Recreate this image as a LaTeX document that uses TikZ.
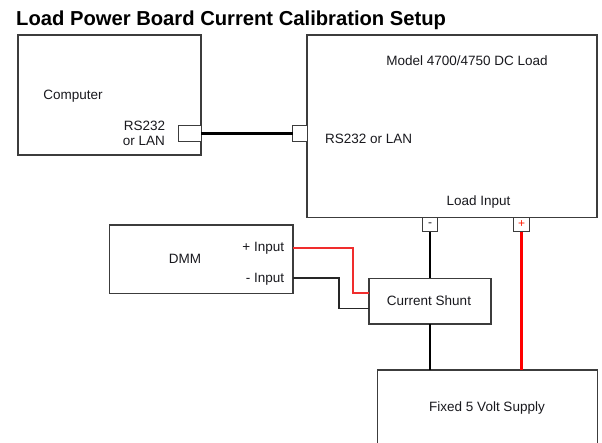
\documentclass[tikz,border=0pt]{standalone}
\usepackage{fontspec}
\setmainfont{Liberation Sans}
\begin{document}
\begin{tikzpicture}[x=1pt,y=-1pt,
  box/.style={draw=boxc,line width=1.3pt,fill=white,inner sep=0pt,outer sep=0pt},
  lbl/.style={inner sep=0pt,anchor=base,text=txtc,font=\fontsize{13.5}{15}\selectfont},
  wire/.style={line width=2.4pt,draw=black},
  redwire/.style={line width=2.4pt,draw=red},
  dmmwire/.style={line width=1.7pt,draw=black!85},
  dmmred/.style={line width=1.7pt,draw=dmmredc}]
\definecolor{boxc}{RGB}{60,60,60}
\definecolor{txtc}{RGB}{25,25,30}
\definecolor{dmmredc}{RGB}{240,45,45}
\useasboundingbox[fill=white] (0,0) rectangle (602,442);
% title
\node[inner sep=0pt,anchor=base west,font=\fontsize{20.2}{22}\bfseries\selectfont] (title) at (16,25) {Load Power Board Current Calibration Setup};
% boxes
\node[box,minimum width=183pt,minimum height=120pt] (comp) at (109.5,95) {};
\node[box,minimum width=290pt,minimum height=182.5pt] (load) at (452,126.25) {};
\node[box,minimum width=183.5pt,minimum height=68.3pt] (dmm) at (201.25,259.15) {};
\node[box,minimum width=122pt,minimum height=45.7pt] (shunt) at (430,301.15) {};
\node[box,minimum width=219.6pt,minimum height=90pt] (supply) at (487.5,415) {};
% ports
\node[box,minimum width=23pt,minimum height=15.5pt] (cport) at (189.7,133.5) {};
\node[box,minimum width=15pt,minimum height=15.5pt] (lport) at (300,133.5) {};
\node[box,minimum width=15.4pt,minimum height=14.4pt] (minus) at (430,224.5) {};
\node[box,minimum width=15.4pt,minimum height=14.4pt] (plus) at (521.5,224.5) {};
\node[inner sep=0pt,text=txtc,font=\fontsize{12}{12}\selectfont] (mtxt) at (minus.center) {-};
\node[inner sep=0pt,text=red!80!orange,font=\fontsize{12}{12}\selectfont] (ptxt) at (plus.center) {+};
% labels
\node[lbl] (t1) at (73,99) {Computer};
\node[lbl] (t2) at (144.5,130) {RS232};
\node[lbl] (t3) at (144,145) {or LAN};
\node[lbl] (t4) at (467,65) {Model 4700/4750 DC Load};
\node[lbl,anchor=base west] (t5) at (325,143) {RS232 or LAN};
\node[lbl] (t6) at (478.5,205.5) {Load Input};
\node[lbl] (t7) at (185,263) {DMM};
\node[lbl,anchor=base east] (t8) at (284.3,251) {+ Input};
\node[lbl,anchor=base east] (t9) at (284.3,282) {- Input};
\node[lbl] (t10) at (429,305) {Current Shunt};
\node[lbl] (t11) at (487,411.5) {Fixed 5 Volt Supply};
% coordinates for DMM inputs
\coordinate (dplus) at (293,247.7);
\coordinate (dminus) at (293,277.7);
\coordinate (splus) at (369,293.3);
\coordinate (sminus) at (369,308.5);
% wires
\draw[wire] (cport.east) -- (lport.west);
\draw[wire] (minus.south) -- (shunt.north);
\draw[wire] (shunt.south) -- (shunt.south |- supply.north);
\draw[redwire] (plus.south) -- (plus.south |- supply.north);
\draw[dmmred] (dplus) -- (353.3,247.7) -- (353.3,293.3) -- (splus);
\draw[dmmwire] (dminus) -- (338.7,277.7) -- (338.7,308.5) -- (sminus);
\end{tikzpicture}
\end{document}
